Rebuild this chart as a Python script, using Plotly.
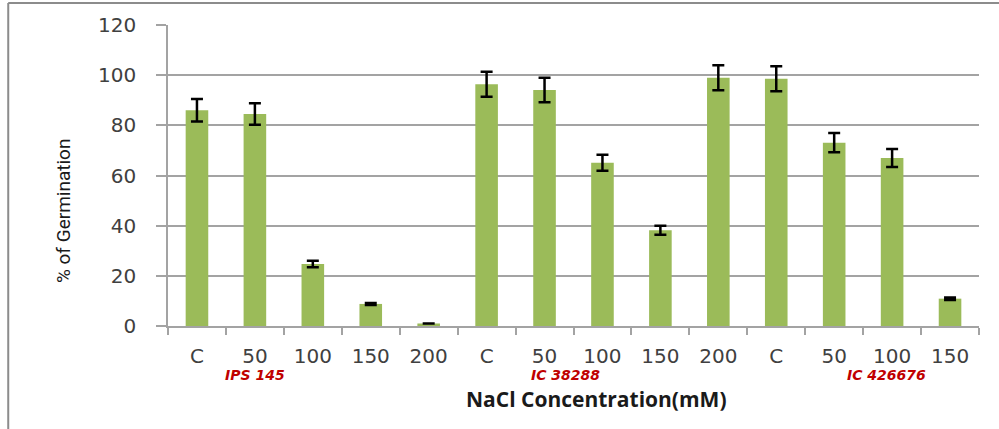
import plotly.graph_objects as go

# NaCl concentration (mM) for each bar, grouped by genotype
concentrations = ["C", "50", "100", "150", "200",
                  "C", "50", "100", "150", "200",
                  "C", "50", "100", "150"]
germination = [86.0, 84.5, 24.7, 8.8, 1.0,
               96.4, 94.1, 65.1, 38.2, 99.0,
               98.6, 73.1, 67.0, 10.9]
germination_err = [4.5, 4.3, 1.3, 0.4, 0.0,
                   5.0, 4.9, 3.2, 1.8, 5.0,
                   5.0, 3.8, 3.6, 0.5]
genotypes = ["IPS 145", "IC 38288", "IC 426676"]
y_ticks = [0, 20, 40, 60, 80, 100, 120]

positions = list(range(len(concentrations)))
genotype_centers = [1.0, 6.37, 11.9]

GRID = "#a3a3a3"
TEXT = "#404040"

fig = go.Figure()
fig.add_trace(go.Bar(
    x=positions,
    y=germination,
    width=0.39,
    marker=dict(color="#9bbb59", line=dict(width=0)),
    error_y=dict(type="data", array=germination_err, visible=True,
                 color="black", thickness=2.5, width=6),
    showlegend=False,
))

fig.update_layout(
    width=999, height=429,
    margin=dict(l=168, r=20, t=25, b=103),
    paper_bgcolor="white", plot_bgcolor="white",
    font=dict(family="DejaVu Sans", color=TEXT),
    xaxis=dict(
        range=[-0.5, len(concentrations) - 0.5],
        tickmode="array", tickvals=positions, ticktext=concentrations,
        ticks="", showgrid=False, zeroline=False,
        showline=True, linecolor=GRID, linewidth=1.5,
        tickfont=dict(family="DejaVu Sans", size=20, color=TEXT),
        ticklabelstandoff=11,
        minor=dict(tickmode="linear", tick0=-0.5, dtick=1,
                   ticks="outside", ticklen=7, tickwidth=1.5,
                   tickcolor=GRID, showgrid=False),
    ),
    yaxis=dict(
        range=[0, 120], tickmode="array", tickvals=y_ticks,
        ticks="outside", ticklen=10, tickwidth=1.5, tickcolor=GRID,
        showgrid=True, gridcolor=GRID, gridwidth=1.5,
        zeroline=False, showline=True, linecolor=GRID, linewidth=1.5,
        tickfont=dict(family="DejaVu Sans", size=20, color=TEXT),
        ticklabelstandoff=16,
    ),
)

# y-axis title, set a little below the middle of the axis
fig.add_annotation(x=-0.1295, y=0.385, xref="paper", yref="paper",
                   text="% of Germination", textangle=-90, showarrow=False,
                   font=dict(family="Roboto", size=19, color="#1a1a1a"),
                   xanchor="center", yanchor="middle")

# genotype labels beneath the concentration ticks
for name, cx in zip(genotypes, genotype_centers):
    fig.add_annotation(x=cx, y=-0.163, xref="x", yref="paper",
                       text="<b><i>%s</i></b>" % name, showarrow=False,
                       font=dict(family="DejaVu Sans", size=14, color="#c00000"),
                       xanchor="center", yanchor="middle")

fig.add_annotation(x=6.9, y=-0.243, xref="x", yref="paper",
                   text="<b>NaCl Concentration(mM)</b>", showarrow=False,
                   font=dict(family="Open Sans", size=21, color="#1a1a1a"),
                   xanchor="center", yanchor="middle")

# chart frame along the top and left edges
frame = dict(color="#8c8c8c", width=2)
fig.add_shape(type="line", xref="paper", yref="paper",
              x0=-0.197, x1=1.03, y0=1.073, y1=1.073, line=frame)
fig.add_shape(type="line", xref="paper", yref="paper",
              x0=-0.197, x1=-0.197, y0=1.073, y1=-0.35, line=frame)

fig.write_html("out.html")
